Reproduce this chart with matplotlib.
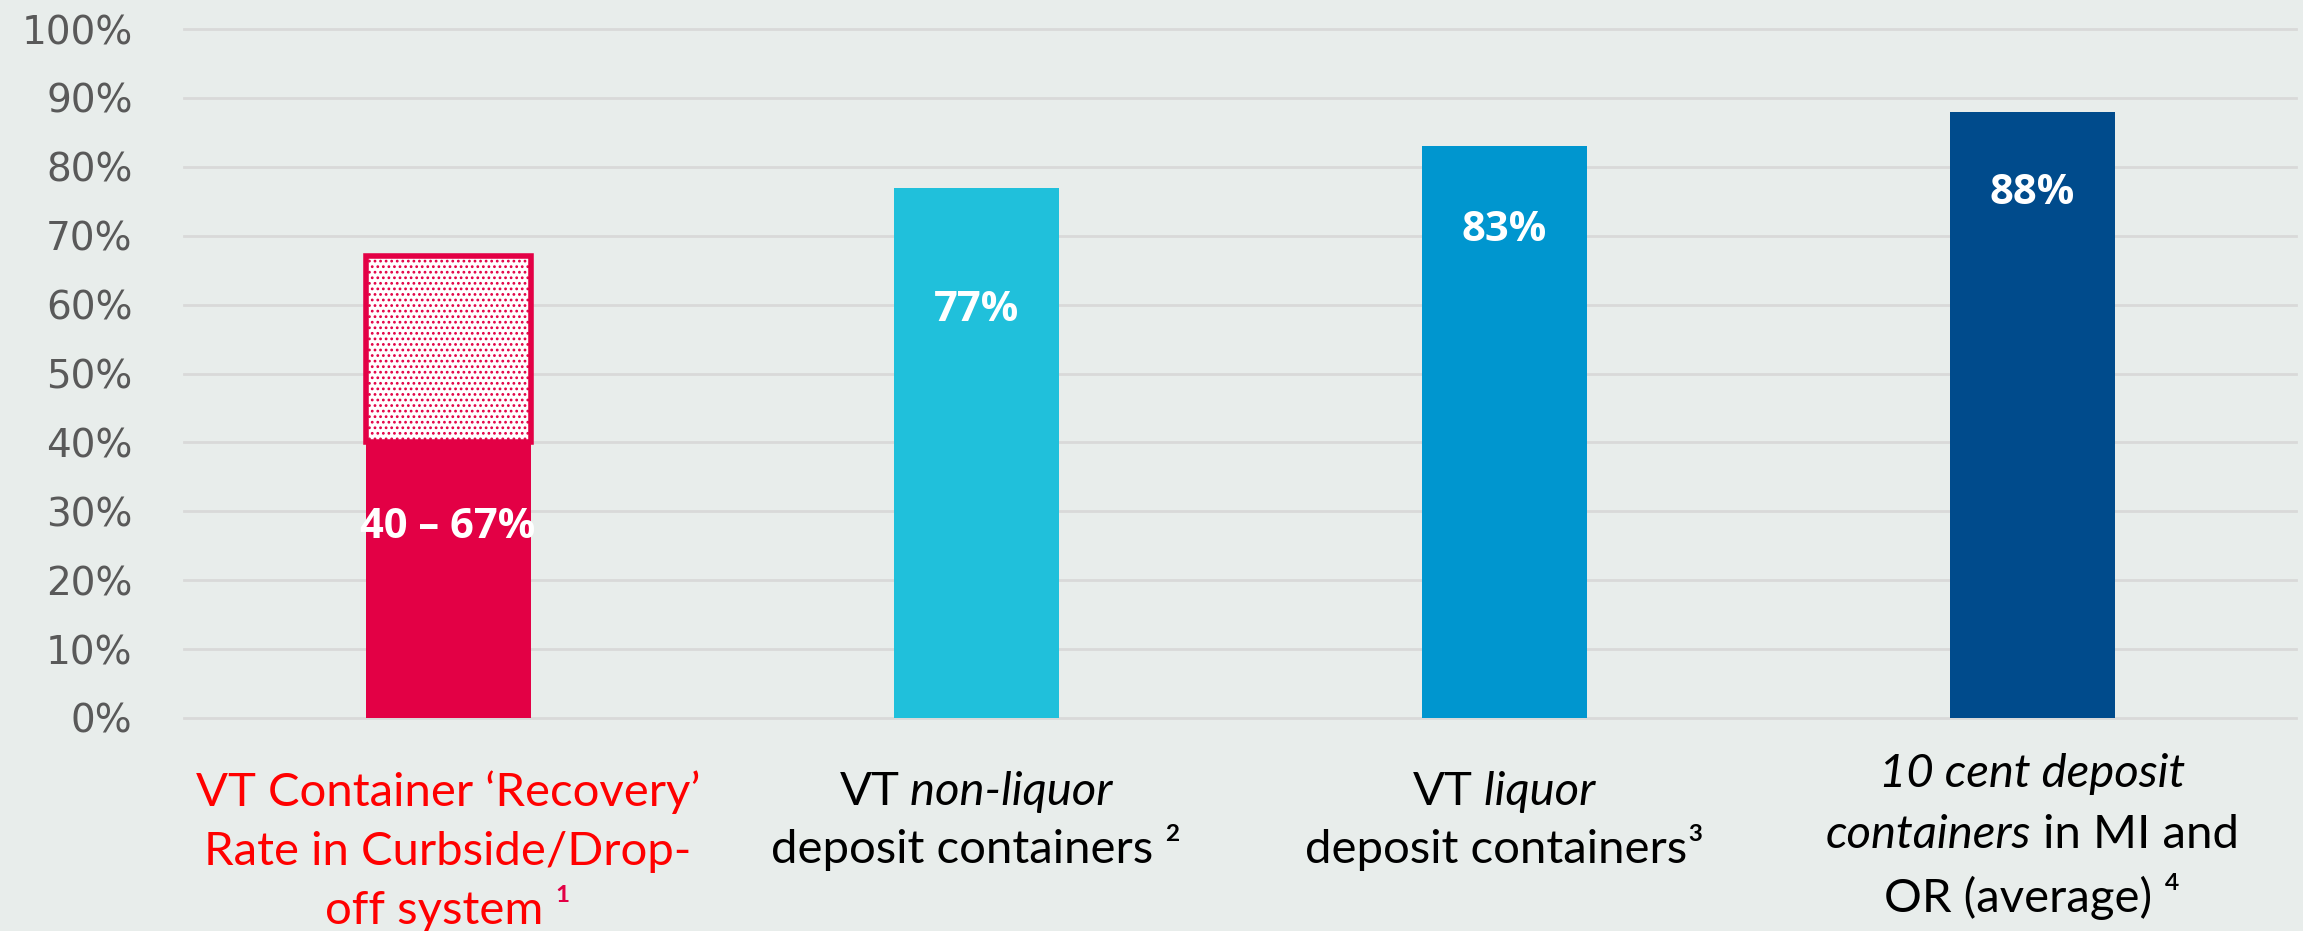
import matplotlib
matplotlib.use("Agg")
import matplotlib.pyplot as plt
from matplotlib.offsetbox import TextArea, HPacker, VPacker, AnnotationBbox

## chart values
recovery_low = 40
recovery_high = 67
deposit_rates = [77, 83, 88]
yticks = list(range(0, 101, 10))

## category labels: *..* is italic, ^ starts the footnote mark
category_labels = [
    "VT Container ‘Recovery’\nRate in Curbside/Drop-\noff system ^¹",
    "VT *non-liquor*\ndeposit containers ^²",
    "VT *liquor*\ndeposit containers^³",
    "*10 cent deposit*\n*containers* in MI and\nOR (average) ^⁴",
]

## styling
bg = "#E8EDEB"
grid_col = "#D9D9D9"
crimson = "#E30045"
bar_colors = ["#20C0DB", "#0096CF", "#004B8C"]
label_colors = ["#FF0000", "black", "black", "black"]
sup_colors = [crimson, "black", "black", "black"]
label_drop = [12.4, 17.8, 12.3, 11.8]  # value label distance below bar top
label_offset = [38, 38, 38, 25]        # category label distance below axis (pt)
line_gap = [12, 12, 12, 14]
bar_w = 0.3125
lab_font = ["Lato", "DejaVu Sans"]


def parse_line(line):
    sup = None
    if "^" in line:
        line, sup = line.split("^")
    pieces = []
    carry = ""
    for k, chunk in enumerate(line.split("*")):
        text = carry + chunk
        stripped = text.rstrip(" ")
        carry = text[len(stripped):]
        if stripped:
            pieces.append((stripped, "italic" if k % 2 else "normal"))
    if sup is not None:
        sup = carry + sup
    return pieces, sup


def make_label(text, color, sup_color, gap, size=34):
    rows = []
    for line in text.split("\n"):
        pieces, sup = parse_line(line)
        kids = [TextArea(t, textprops=dict(color=color, fontsize=size, style=st,
                                           family=lab_font))
                for t, st in pieces]
        if sup:
            kids.append(TextArea(sup, textprops=dict(color=sup_color, fontsize=size,
                                                     family=lab_font)))
        rows.append(HPacker(children=kids, align="baseline", pad=0, sep=0))
    return VPacker(children=rows, align="center", pad=0, sep=gap)


fig = plt.figure(figsize=(23.03, 9.31), dpi=100, facecolor=bg)
ax = fig.add_axes([0.0799, 0.2288, 0.9171, 0.74])
ax.set_facecolor(bg)

# red curbside bar: solid lower bound plus dotted range up to the upper bound
ax.bar(0, recovery_low, width=bar_w, color=crimson, zorder=3)
plt.rcParams["hatch.linewidth"] = 1.2
ax.bar(0, recovery_high - recovery_low, bottom=recovery_low, width=bar_w,
       facecolor="white", edgecolor=crimson, hatch="...", linewidth=4, zorder=3)
ax.text(0, recovery_low - label_drop[0], f"{recovery_low} – {recovery_high}%",
        ha="center", va="center", color="white", fontsize=30, fontweight="bold",
        family="Open Sans", zorder=4)

xs = range(1, len(deposit_rates) + 1)
ax.bar(xs, deposit_rates, width=bar_w, color=bar_colors, zorder=3)
for x, v, d in zip(xs, deposit_rates, label_drop[1:]):
    ax.text(x, v - d, f"{v}%", ha="center", va="center", color="white",
            fontsize=30, fontweight="bold", family="Open Sans", zorder=4)

ax.set_xlim(-0.5, 3.5)
ax.set_ylim(0, 100)
ax.set_yticks(yticks)
ax.set_yticklabels([f"{t}%" for t in yticks], fontsize=28, color="#595959",
                   family="DejaVu Sans")
ax.tick_params(axis="y", length=0, pad=37)
ax.set_xticks([])
ax.grid(axis="y", color=grid_col, linewidth=2, zorder=0)
for g in ax.get_ygridlines():
    g.set_clip_on(False)
for s in ax.spines.values():
    s.set_visible(False)

for i, text in enumerate(category_labels):
    box = make_label(text, label_colors[i], sup_colors[i], line_gap[i])
    ab = AnnotationBbox(box, (i, 0), xycoords=("data", "axes fraction"),
                        xybox=(0, -label_offset[i]), boxcoords="offset points",
                        box_alignment=(0.5, 1), frameon=False,
                        annotation_clip=False)
    ax.add_artist(ab)

fig.savefig("out.png", dpi=100, facecolor=bg)
